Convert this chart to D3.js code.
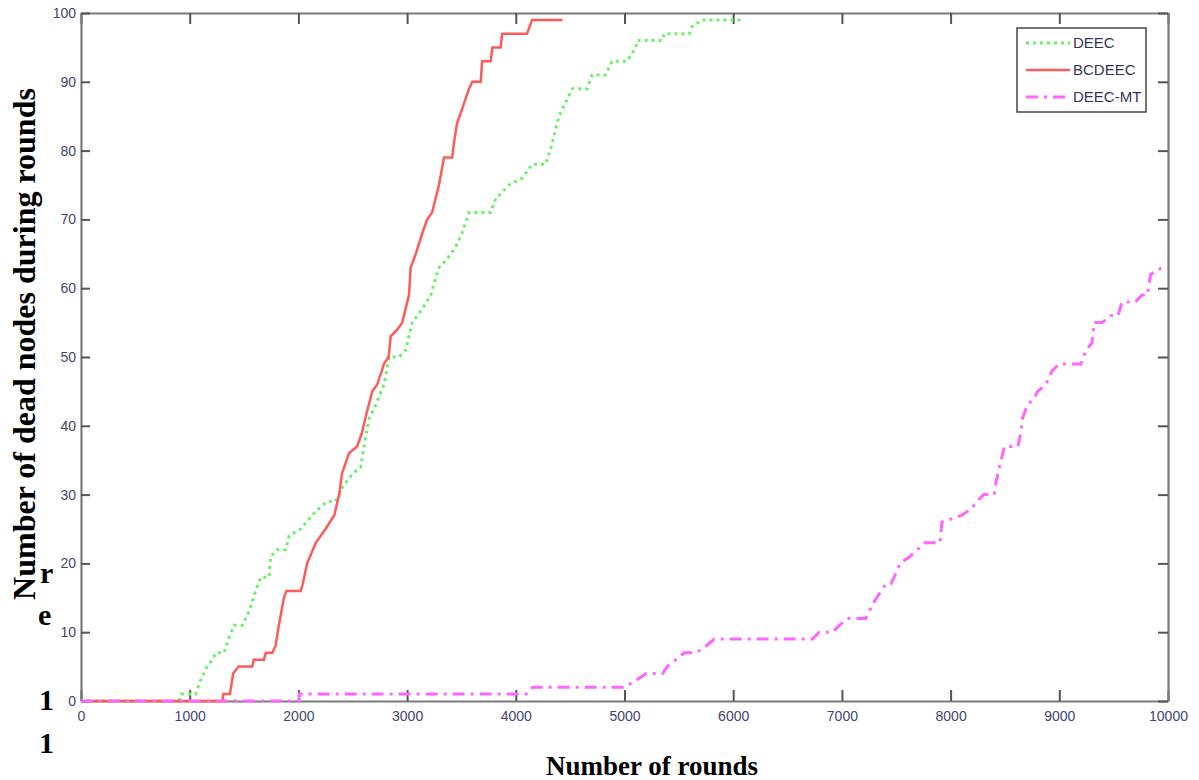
<!DOCTYPE html>
<html>
<head>
<meta charset="utf-8">
<script src="https://cdn.jsdelivr.net/npm/d3@7"></script>
<style>
  body { margin: 0; background: #fff; }
  svg { display: block; }
</style>
</head>
<body>
<script>
// data: rounds (x) and number of dead nodes (y)
var deecRounds = [0, 900, 920, 1055, 1100, 1160, 1208, 1240, 1316, 1357, 1408, 1484, 1545, 1607, 1653, 1730, 1745, 1805, 1883, 1914, 2021, 2126, 2190, 2264, 2343, 2404, 2496, 2573, 2604, 2650, 2711, 2788, 2834, 2925, 2987, 3047, 3140, 3217, 3293, 3355, 3447, 3505, 3570, 3769, 3815, 3937, 4060, 4150, 4275, 4334, 4397, 4459, 4520, 4657, 4703, 4826, 4886, 5025, 5103, 5117, 5347, 5365, 5597, 5620, 5715, 6085];
var deecDead   = [0, 0, 1, 1, 3, 5, 6, 7, 7, 9, 11, 11, 13, 16, 18, 18, 21, 22, 22, 24, 25, 27, 28, 29, 29, 31, 33, 34, 37, 41, 43, 46, 50, 50, 51, 55, 57, 59, 63, 64, 66, 68, 71, 71, 73, 75, 76, 78, 78, 81, 85, 87, 89, 89, 91, 91, 93, 93, 95, 96, 96, 97, 97, 98, 99, 99];

var bcdeecRounds = [0, 1300, 1310, 1370, 1400, 1450, 1575, 1590, 1683, 1700, 1760, 1790, 1820, 1867, 1890, 2021, 2040, 2080, 2160, 2250, 2330, 2375, 2400, 2465, 2540, 2585, 2630, 2680, 2725, 2788, 2830, 2849, 2910, 2955, 3017, 3033, 3080, 3140, 3185, 3230, 3293, 3340, 3415, 3430, 3460, 3505, 3570, 3600, 3677, 3690, 3769, 3785, 3860, 3875, 4103, 4150, 4430];
var bcdeecDead   = [0, 0, 1, 1, 4, 5, 5, 6, 6, 7, 7, 8, 11, 15, 16, 16, 17, 20, 23, 25, 27, 30, 33, 36, 37, 39, 42, 45, 46, 49, 50, 53, 54, 55, 59, 63, 65, 68, 70, 71, 75, 79, 79, 81, 84, 86, 89, 90, 90, 93, 93, 95, 95, 97, 97, 99, 99];

var mtRounds = [0, 2005, 2010, 4095, 4155, 5000, 5107, 5200, 5350, 5395, 5550, 5658, 5750, 5827, 6728, 6792, 6912, 6976, 7050, 7220, 7280, 7360, 7405, 7450, 7510, 7534, 7626, 7764, 7902, 7920, 8104, 8195, 8240, 8305, 8400, 8420, 8465, 8495, 8555, 8620, 8646, 8660, 8705, 8770, 8800, 8875, 8935, 9000, 9200, 9245, 9300, 9320, 9394, 9473, 9540, 9577, 9700, 9760, 9810, 9840, 9945, 10000];
var mtDead   = [0, 0, 1, 1, 2, 2, 3, 4, 4, 5, 7, 7, 8, 9, 9, 10, 10, 11, 12, 12, 14, 16, 17, 17, 19, 20, 21, 23, 23, 26, 27, 28, 29, 30, 30, 32, 35, 37, 37, 37, 39, 41, 43, 44, 45, 46, 48, 49, 49, 51, 52, 55, 55, 56, 56, 58, 58, 59, 59, 62, 63, 63];

var xTicks = [0, 1000, 2000, 3000, 4000, 5000, 6000, 7000, 8000, 9000, 10000];
var yTicks = [0, 10, 20, 30, 40, 50, 60, 70, 80, 90, 100];
var seriesNames = ["DEEC", "BCDEEC", "DEEC-MT"];

var width = 1199, height = 780;
// plot box edges (window.top is reserved, so use a margin object)
var box = {left: 81, right: 1168, top: 13, bottom: 701};

var svg = d3.select("body").append("svg")
    .attr("width", width)
    .attr("height", height);

var x = d3.scaleLinear().domain([0, 10000]).range([box.left, box.right]);
var y = d3.scaleLinear().domain([0, 100]).range([box.bottom, box.top]);

// axes, ticks pointing inside like matlab
var axisColor = "#7a7a7a";
var labelColor = "#45456e";

svg.append("g")
    .attr("transform", "translate(0," + box.bottom + ")")
    .call(d3.axisBottom(x).tickValues(xTicks).tickSizeInner(-11).tickSizeOuter(0).tickPadding(10).tickFormat(d3.format("d")));
svg.append("g")
    .attr("transform", "translate(0," + box.top + ")")
    .call(d3.axisTop(x).tickValues(xTicks).tickSizeInner(-11).tickSizeOuter(0).tickFormat(""));
svg.append("g")
    .attr("transform", "translate(" + box.left + ",0)")
    .call(d3.axisLeft(y).tickValues(yTicks).tickSizeInner(-9).tickSizeOuter(0).tickPadding(5));
svg.append("g")
    .attr("transform", "translate(" + box.right + ",0)")
    .call(d3.axisRight(y).tickValues(yTicks).tickSizeInner(-10).tickSizeOuter(0).tickFormat(""));

svg.selectAll(".domain").attr("stroke", axisColor).attr("stroke-width", 2.2);
svg.selectAll(".tick line").attr("stroke", "#555").attr("stroke-width", 2);
svg.selectAll(".tick text")
    .attr("fill", labelColor)
    .style("font-family", "'Liberation Sans', Arial, sans-serif")
    .style("font-size", "14px");

// lines
var line = d3.line()
    .x(function(d) { return x(d[0]); })
    .y(function(d) { return y(d[1]); });

function pairs(rs, vs) {
  return rs.map(function(r, i) { return [r, vs[i]]; });
}

svg.append("path")
    .datum(pairs(deecRounds, deecDead))
    .attr("fill", "none")
    .attr("stroke", "#6cf06c")
    .attr("stroke-width", 3)
    .attr("stroke-dasharray", "3,4")
    .attr("d", line);

svg.append("path")
    .datum(pairs(bcdeecRounds, bcdeecDead))
    .attr("fill", "none")
    .attr("stroke", "#ff5a5a")
    .attr("stroke-width", 2.5)
    .attr("d", line);

svg.append("path")
    .datum(pairs(mtRounds, mtDead))
    .attr("fill", "none")
    .attr("stroke", "#ff66ff")
    .attr("stroke-width", 3)
    .attr("stroke-dasharray", "12,6,3,6")
    .attr("d", line);

// legend
var legend = svg.append("g").attr("transform", "translate(1017,28)");
legend.append("rect")
    .attr("width", 129)
    .attr("height", 84)
    .attr("fill", "#fff")
    .attr("stroke", "#444")
    .attr("stroke-width", 1.5);

var legendStyles = [
  {color: "#6cf06c", dash: "3,4", w: 3},
  {color: "#ff5a5a", dash: null, w: 2.5},
  {color: "#ff66ff", dash: "12,6,3,6", w: 3}
];

seriesNames.forEach(function(name, i) {
  var yy = 15 + i * 27;
  legend.append("line")
      .attr("x1", 9).attr("x2", 53)
      .attr("y1", yy).attr("y2", yy)
      .attr("stroke", legendStyles[i].color)
      .attr("stroke-width", legendStyles[i].w)
      .attr("stroke-dasharray", legendStyles[i].dash);
  legend.append("text")
      .attr("x", 56)
      .attr("y", yy + 5)
      .attr("fill", "#33335a")
      .style("font-family", "'Liberation Sans', Arial, sans-serif")
      .style("font-size", "15px")
      .text(name);
});

// axis titles
svg.append("text")
    .attr("transform", "translate(35,344) rotate(-90)")
    .attr("text-anchor", "middle")
    .style("font-family", "'Liberation Serif', 'Times New Roman', serif")
    .style("font-weight", "bold")
    .style("font-size", "32px")
    .text("Number of dead nodes during rounds");

svg.append("text")
    .attr("x", 652)
    .attr("y", 775)
    .attr("text-anchor", "middle")
    .style("font-family", "'Liberation Serif', 'Times New Roman', serif")
    .style("font-weight", "bold")
    .style("font-size", "27px")
    .text("Number of rounds");

// stray characters left over in the source picture
var stray = [["r", 40, 583], ["e", 38, 625], ["1", 39, 710], ["1", 39, 753]];
stray.forEach(function(s) {
  svg.append("text")
      .attr("x", s[1])
      .attr("y", s[2])
      .style("font-family", "'Liberation Serif', 'Times New Roman', serif")
      .style("font-weight", "bold")
      .style("font-size", "30px")
      .text(s[0]);
});
</script>
</body>
</html>
